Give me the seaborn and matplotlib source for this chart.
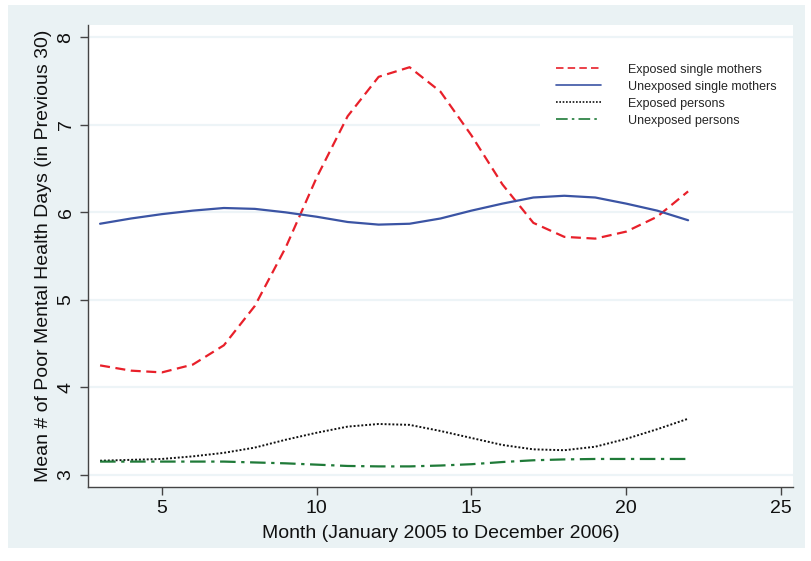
import numpy as np
import pandas as pd
import seaborn as sns
import matplotlib
import matplotlib.pyplot as plt
from matplotlib.patches import Rectangle

matplotlib.use("Agg")

months = list(range(3, 23))
exposed_mothers = [4.25, 4.19, 4.17, 4.26, 4.48, 4.93, 5.6, 6.4, 7.1, 7.55, 7.66, 7.38, 6.88, 6.32, 5.88, 5.72, 5.7, 5.78, 5.95, 6.24]
unexposed_mothers = [5.87, 5.93, 5.98, 6.02, 6.05, 6.04, 6.0, 5.95, 5.89, 5.86, 5.87, 5.93, 6.02, 6.1, 6.17, 6.19, 6.17, 6.1, 6.02, 5.91]
exposed_persons = [3.16, 3.17, 3.18, 3.21, 3.25, 3.31, 3.4, 3.48, 3.55, 3.58, 3.57, 3.5, 3.42, 3.34, 3.29, 3.28, 3.32, 3.41, 3.52, 3.64]
unexposed_persons = [3.15, 3.15, 3.15, 3.15, 3.15, 3.14, 3.13, 3.115, 3.1, 3.095, 3.095, 3.105, 3.12, 3.145, 3.165, 3.175, 3.18, 3.18, 3.18, 3.18]

series = [
    ("Exposed single mothers", exposed_mothers, "#e8202a", (0, (4.5, 2.5))),
    ("Unexposed single mothers", unexposed_mothers, "#3b54a4", "-"),
    ("Exposed persons", exposed_persons, "#111111", (0, (1, 1))),
    ("Unexposed persons", unexposed_persons, "#1f7a38", (0, (7, 2.5, 1.5, 2.5))),
]

sns.set_style("white")
plt.rcParams["font.family"] = ["Liberation Sans", "DejaVu Sans"]

fig = plt.figure(figsize=(8.12, 5.61), dpi=100)
fig.patch.set_facecolor("white")
fig.patches.append(Rectangle((0.01, 0.023), 0.981, 0.968, transform=fig.transFigure,
                             facecolor="#eaf2f4", edgecolor="none", zorder=-10))
ax = fig.add_axes([0.108, 0.132, 0.869, 0.823])
ax.set_facecolor("white")

for label, vals, color, ls in series:
    sns.lineplot(x=months, y=vals, ax=ax, color=color, linestyle=ls,
                 linewidth=1.6 if ls != (0, (1, 1)) else 1.4, label=label)

ax.set_xlim(2.6, 25.4)
ax.set_ylim(2.86, 8.14)
ax.set_xticks([5, 10, 15, 20, 25])
ax.set_yticks([3, 4, 5, 6, 7, 8])
ax.yaxis.grid(True, color="#edf4f7", linewidth=1.6)
ax.xaxis.grid(False)
ax.set_axisbelow(True)

for s in ["top", "right"]:
    ax.spines[s].set_visible(False)
for s in ["left", "bottom"]:
    ax.spines[s].set_color("#444444")
    ax.spines[s].set_linewidth(1.0)

ax.tick_params(axis="both", direction="out", length=6, width=1, color="#444444",
               labelsize=14, labelcolor="#111111", bottom=True, left=True)
for t in ax.get_yticklabels():
    t.set_rotation(90)
    t.set_va("center")

ax.set_xlabel("Month (January 2005 to December 2006)", fontsize=14, labelpad=6, color="#111111")
ax.set_ylabel("Mean # of Poor Mental Health Days (in Previous 30)", fontsize=14, color="#111111")
ax.yaxis.set_label_coords(-0.051, 0.5)

leg = ax.legend(loc="upper right", bbox_to_anchor=(1.0, 0.952), frameon=True, fontsize=9,
                handlelength=3.6, handletextpad=2.2, labelspacing=0.4, borderpad=1.3,
                borderaxespad=0.0)
leg.get_frame().set_facecolor("white")
leg.get_frame().set_edgecolor("none")
leg.get_frame().set_alpha(1)
for h in leg.get_lines():
    h.set_linewidth(1.2)

plt.savefig("out.png", dpi=100)
plt.close()
